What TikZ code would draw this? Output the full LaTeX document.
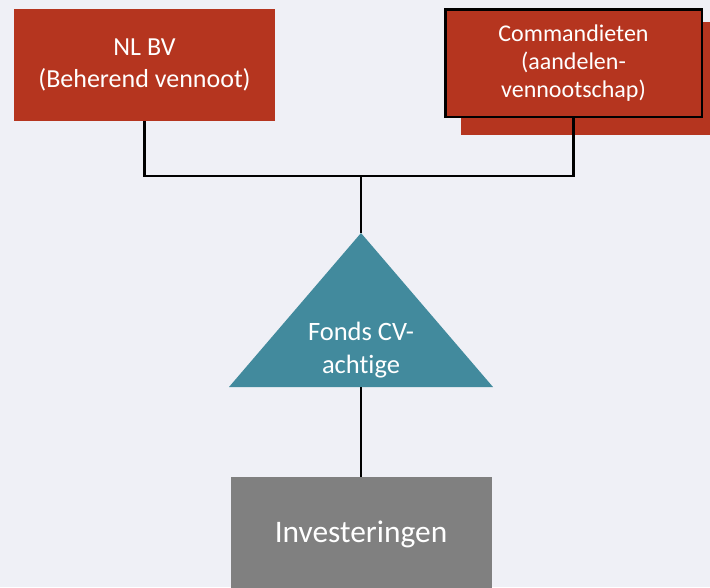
\documentclass[tikz,border=0pt]{standalone}
\usepackage{fontspec}
\setmainfont{Carlito}[Ligatures=NoCommon]
\usetikzlibrary{positioning,calc}
\definecolor{bg}{HTML}{EFF0F6}
\definecolor{brick}{HTML}{B5351F}
\definecolor{fondsteal}{HTML}{428A9D}
\definecolor{stone}{HTML}{808080}

\begin{document}
\begin{tikzpicture}[x=1pt,y=-1pt,
  box/.style={inner sep=0pt,text=white,align=center,minimum width=261pt,minimum height=112pt},
  link/.style={line width=2.4pt}]
\useasboundingbox (0,0) rectangle (710,587);
\fill[bg] (0,0) rectangle (710,587);
\node[box,fill=brick,font=\fontsize{26}{32}\selectfont] (nlbv) at (144.5,65){NL BV\\(Beherend vennoot)};
\fill[brick] (461,22) rectangle (712,135);
\node[box,fill=brick,draw=black,line width=2.5pt,minimum width=256.5pt,minimum height=107.5pt,font=\fontsize{24}{28}\selectfont] (comm) at (573.5,63){Commandieten\\(aandelen-\\vennootschap)};
\coordinate (apex) at (361,233);\coordinate (base) at (361,387);
\fill[fondsteal] (apex)--(493,387)--(229,387)--cycle;
\node[text=white,align=center,inner sep=0pt,font=\fontsize{26.5}{33}\selectfont] (fonds) at (361,350){Fonds CV-\\achtige};
\node[box,fill=stone,minimum height=114pt,font=\fontsize{31.4}{38}\selectfont] (invest) at (361,534){Investeringen};
\coordinate (fork) at (361,176);
\draw[link] (nlbv.south) |- (fork) -| (comm.south);
\draw[link] (fork)--(apex);\draw[link] (base)--(invest.north);
\end{tikzpicture}
\end{document}
